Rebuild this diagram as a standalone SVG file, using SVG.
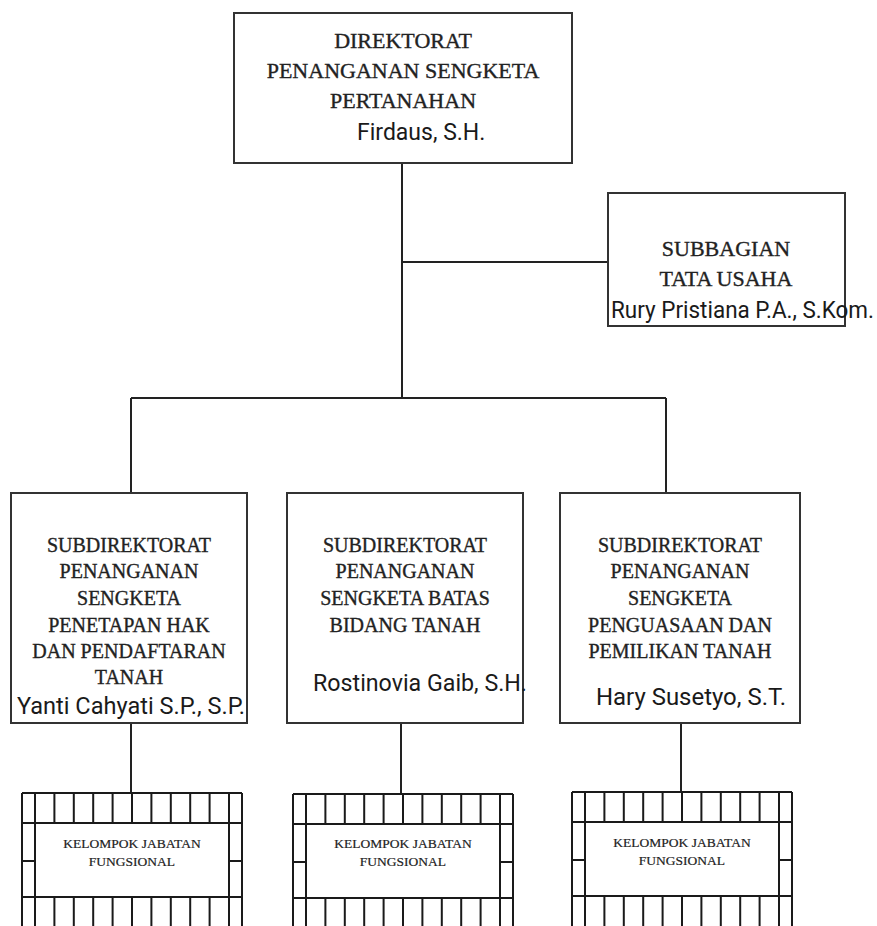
<svg xmlns="http://www.w3.org/2000/svg" xmlns:xlink="http://www.w3.org/1999/xlink" width="877" height="926" viewBox="0 0 877 926">
<style>
.box{fill:#fff;stroke:#333;stroke-width:2}
.ln{stroke:#222;stroke-width:2;fill:none}
.gl{stroke:#1a1a1a;stroke-width:2;fill:none}
.t{font-family:"Liberation Serif","Times New Roman",serif;fill:#222;stroke:#222;stroke-width:0.35;text-anchor:middle}
.t22{font-size:22px}
.t20{font-size:20px}
.t13{font-size:13.5px;stroke-width:0.2}
.n{font-family:Roboto,"Liberation Sans",sans-serif;font-size:23px;fill:#1a1a1a}
</style>
<defs>
<g id="grid">
<rect x="0" y="0" width="220" height="160" fill="#fff"/>
<path class="gl" d="M0,0H220M0,0V140M220,0V140M13,0V140M207,0V140M0,30H220M0,104H220M0,68H13M207,68H220"/>
<path class="gl" d="M32.4,0V30M51.8,0V30M71.2,0V30M90.6,0V30M110,0V30M129.4,0V30M148.8,0V30M168.2,0V30M187.6,0V30M32.4,104V140M51.8,104V140M71.2,104V140M90.6,104V140M110,104V140M129.4,104V140M148.8,104V140M168.2,104V140M187.6,104V140"/>
</g>
</defs>
<rect width="877" height="926" fill="#fff"/>
<g id="connectors">
<path class="ln" d="M402,163V398"/>
<path class="ln" d="M402,262H608"/>
<path class="ln" d="M131,398H666"/>
<path class="ln" d="M131,398V493M666,398V493"/>
<path class="ln" d="M131,723V793M401,723V794M681,723V792"/>
</g>
<g id="direktorat">
<rect class="box" x="234" y="13" width="338" height="150"/>
<text class="t t22" x="403" y="48">DIREKTORAT</text>
<text class="t t22" x="403" y="78">PENANGANAN SENGKETA</text>
<text class="t t22" x="403" y="108">PERTANAHAN</text>
<text class="n" x="357" y="140">Firdaus, S.H.</text>
</g>
<g id="subbagian">
<rect class="box" x="608" y="193" width="237" height="133"/>
<text class="t t22" x="726" y="256">SUBBAGIAN</text>
<text class="t t22" x="726" y="286">TATA USAHA</text>
<text class="n" x="611" y="318" textLength="263" lengthAdjust="spacingAndGlyphs">Rury Pristiana P.A., S.Kom.</text>
</g>
<g id="subdit1">
<rect class="box" x="11" y="493" width="236" height="230"/>
<text class="t t20" x="129" y="552">SUBDIREKTORAT</text>
<text class="t t20" x="129" y="578">PENANGANAN</text>
<text class="t t20" x="129" y="605">SENGKETA</text>
<text class="t t20" x="129" y="632">PENETAPAN HAK</text>
<text class="t t20" x="129" y="658">DAN PENDAFTARAN</text>
<text class="t t20" x="129" y="684">TANAH</text>
<text class="n" x="17" y="714" textLength="228" lengthAdjust="spacingAndGlyphs">Yanti Cahyati S.P., S.P.</text>
</g>
<g id="subdit2">
<rect class="box" x="287" y="493" width="236" height="230"/>
<text class="t t20" x="405" y="552">SUBDIREKTORAT</text>
<text class="t t20" x="405" y="578">PENANGANAN</text>
<text class="t t20" x="405" y="605">SENGKETA BATAS</text>
<text class="t t20" x="405" y="632">BIDANG TANAH</text>
<text class="n" x="313" y="691" textLength="214" lengthAdjust="spacingAndGlyphs">Rostinovia Gaib, S.H.</text>
</g>
<g id="subdit3">
<rect class="box" x="560" y="493" width="240" height="230"/>
<text class="t t20" x="680" y="552">SUBDIREKTORAT</text>
<text class="t t20" x="680" y="578">PENANGANAN</text>
<text class="t t20" x="680" y="605">SENGKETA</text>
<text class="t t20" x="680" y="632">PENGUASAAN DAN</text>
<text class="t t20" x="680" y="658">PEMILIKAN TANAH</text>
<text class="n" x="596" y="705" textLength="190" lengthAdjust="spacingAndGlyphs">Hary Susetyo, S.T.</text>
</g>
<g id="jf1">
<use xlink:href="#grid" transform="translate(22,793)"/>
<text class="t t13" x="132" y="848">KELOMPOK JABATAN</text>
<text class="t t13" x="132" y="866">FUNGSIONAL</text>
</g>
<g id="jf2">
<use xlink:href="#grid" transform="translate(293,794)"/>
<text class="t t13" x="403" y="848">KELOMPOK JABATAN</text>
<text class="t t13" x="403" y="866">FUNGSIONAL</text>
</g>
<g id="jf3">
<use xlink:href="#grid" transform="translate(572,792)"/>
<text class="t t13" x="682" y="847">KELOMPOK JABATAN</text>
<text class="t t13" x="682" y="865">FUNGSIONAL</text>
</g>
</svg>
